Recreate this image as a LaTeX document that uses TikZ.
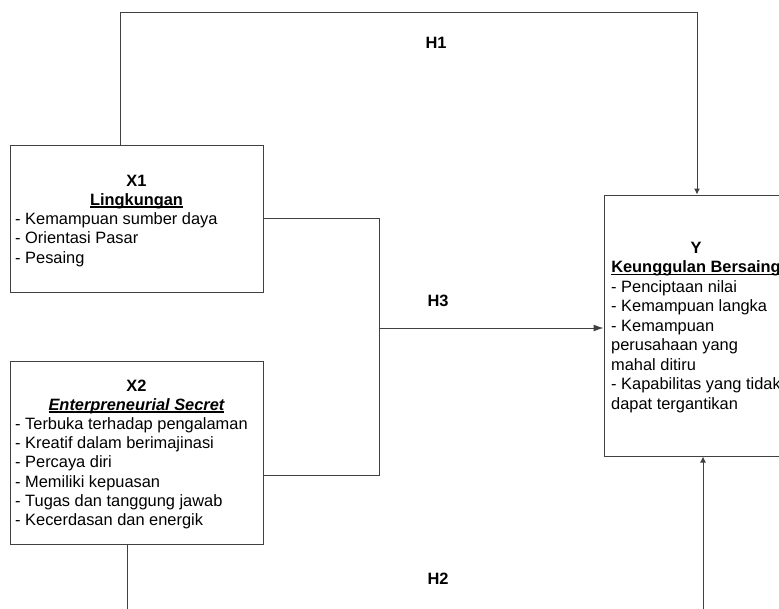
\documentclass[tikz,border=0pt]{standalone}
\usepackage{fontspec}
\setmainfont{Liberation Sans}
\usetikzlibrary{arrows.meta}
\newcommand\ulx[1]{\setbox0\hbox{#1}\rlap{\rule[-2.3pt]{\wd0}{1.2pt}}\box0}
\begin{document}
\begin{tikzpicture}[x=1pt,y=-1pt,
  every node/.style={font=\fontsize{16.4}{19.3}\selectfont, text=black},
  varbox/.style={draw=black!75, line width=1pt, fill=white, inner sep=0pt},
  conn/.style={draw=black!75, line width=1pt},
  arrsmall/.style={conn, -{Latex[length=6pt,width=6pt]}},
  arrbig/.style={conn, -{Latex[length=10pt,width=7pt]}},
  ln/.style={anchor=base west, inner sep=0pt},
  ttl/.style={anchor=base, inner sep=0pt, font=\fontsize{16.4}{19.3}\selectfont\bfseries},
  hlab/.style={anchor=base, inner sep=0pt, font=\fontsize{16.4}{19.3}\selectfont\bfseries}]
\useasboundingbox (0,0) rectangle (779,608);
\clip (0,0) rectangle (779,608);
\fill[white] (0,0) rectangle (779,608);

% boxes
\node[varbox, minimum width=253pt, minimum height=147pt] (X1) at (136.5,218.5) {};
\node[varbox, minimum width=253pt, minimum height=183pt] (X2) at (136.5,452.5) {};
\node[varbox, minimum width=184pt, minimum height=261pt] (Y) at (696,325.5) {};

% X1 text
\node[ttl] (x1a) at (136.5,186) {X1};
\node[ttl] (x1b) at (136.5,205.3) {\ulx{Lingkungan}};
\node[ln] (x1c) at (15,224.6) {- Kemampuan sumber daya};
\node[ln] (x1d) at (15,243.9) {- Orientasi Pasar};
\node[ln] (x1e) at (15,263.2) {- Pesaing};

% X2 text
\node[ttl] (x2a) at (136.5,391) {X2};
\node[ttl] (x2b) at (136.5,410.2) {\ulx{\itshape Enterpreneurial Secret}};
\node[ln] (x2c) at (15,429.4) {- Terbuka terhadap pengalaman};
\node[ln] (x2d) at (15,448.6) {- Kreatif dalam berimajinasi};
\node[ln] (x2e) at (15,467.8) {- Percaya diri};
\node[ln] (x2f) at (15,487) {- Memiliki kepuasan};
\node[ln] (x2g) at (15,506.2) {- Tugas dan tanggung jawab};
\node[ln] (x2h) at (15,525.4) {- Kecerdasan dan energik};

% Y text
\node[ttl] (ya) at (696,253) {Y};
\node[ttl] (yb) at (696,272.5) {\ulx{Keunggulan Bersaing}};
\node[ln] (yc) at (611,292) {- Penciptaan nilai};
\node[ln] (yd) at (611,311.5) {- Kemampuan langka};
\node[ln] (ye) at (611,331) {- Kemampuan};
\node[ln] (yf) at (611,350.5) {perusahaan yang};
\node[ln] (yg) at (611,370) {mahal ditiru};
\node[ln] (yh) at (611,389.5) {- Kapabilitas yang tidak};
\node[ln] (yi) at (611,409) {dapat tergantikan};

% H1
\coordinate (h1a) at (120,12.5);
\coordinate (h1b) at (697,12.5);
\draw[arrsmall] (h1a |- X1.north) -- (h1a) -- (h1b) -- (h1b |- Y.north);
\node[hlab] (H1) at (436,48) {H1};

% H3
\coordinate (j1) at (379,218.5);
\coordinate (j2) at (379,475);
\coordinate (jm) at (379,328);
\draw[conn] (X1.east) -- (j1) -- (j2) -- (j2 -| X2.east);
\draw[arrbig] (jm) -- (jm -| Y.west);
\node[hlab] (H3) at (438,306) {H3};

% H2
\coordinate (h2a) at (127,610);
\coordinate (h2b) at (703,610);
\draw[conn] (h2a |- X2.south) -- (h2a);
\draw[arrsmall] (h2b) -- (h2b |- Y.south);
\node[hlab] (H2) at (438,584) {H2};
\end{tikzpicture}
\end{document}
